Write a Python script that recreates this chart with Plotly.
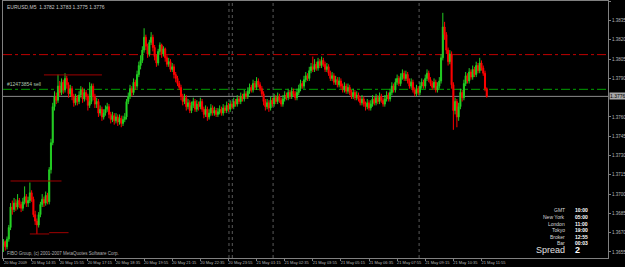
import plotly.graph_objects as go

# ---- data (prices in pips above 1.3000, e.g. 776 -> 1.3776) ----
first_open_pips = 660
close_pips = [
    663, 659, 665, 674, 690, 688, 693, 690, 695, 692, 689, 694, 698, 693, 695, 701,
    696, 684, 679, 676, 684, 692, 696, 693, 699, 694, 719, 740, 768, 776, 773, 784,
    779, 787, 781, 790, 785, 778, 782, 776, 771, 775, 772, 777, 781, 774, 779, 776,
    769, 772, 784, 776, 770, 772, 763, 766, 760, 763, 766, 768, 762, 758, 761, 757,
    760, 756, 759, 755, 758, 760, 772, 776, 782, 779, 787, 784, 793, 800, 804, 812,
    822, 815, 809, 818, 822, 814, 807, 802, 811, 816, 809, 813, 806, 801, 803, 797,
    799, 793, 790, 786, 783, 776, 772, 775, 768, 771, 765, 769, 772, 766, 770, 768,
    772, 766, 762, 766, 760, 763, 767, 763, 765, 762, 764, 766, 763, 767, 765, 769,
    766, 770, 768, 772, 770, 774, 772, 776, 774, 778, 776, 780, 783, 781, 786, 783,
    788, 785, 782, 778, 772, 768, 771, 767, 773, 770, 775, 772, 776, 773, 770, 774,
    777, 775, 779, 776, 780, 778, 775, 779, 782, 786, 784, 789, 792, 790, 796, 799,
    797, 801, 798, 803, 800, 804, 801, 797, 799, 794, 790, 792, 787, 789, 785, 788,
    784, 781, 784, 780, 783, 779, 776, 779, 775, 777, 774, 771, 774, 770, 768, 771,
    767, 770, 774, 771, 775, 772, 776, 773, 770, 774, 777, 774, 779, 784, 781, 787,
    790, 786, 791, 794, 790, 793, 788, 784, 787, 781, 778, 782, 779, 784, 787, 784,
    790, 794, 789, 786, 783, 787, 781, 784, 788, 806, 830, 824, 812, 803, 809, 785,
    765, 772, 760, 768, 779, 775, 786, 792, 788, 795, 791, 797, 793, 800, 796, 802,
    798, 794, 782, 776,
]
high_pips = [
    665, 664, 667, 676, 693, 695, 697, 696, 700, 697, 694, 697, 706, 700, 698, 709,
    703, 698, 687, 681, 686, 694, 700, 698, 702, 701, 721, 743, 771, 780, 779, 793,
    788, 790, 789, 794, 792, 787, 785, 784, 778, 778, 777, 780, 784, 783, 782, 781,
    778, 787, 786, 786, 778, 775, 774, 769, 768, 766, 769, 771, 770, 764, 764, 763,
    763, 762, 762, 761, 761, 763, 774, 779, 785, 784, 790, 789, 796, 803, 808, 815,
    829, 824, 817, 820, 826, 824, 816, 809, 813, 818, 817, 815, 814, 808, 806, 805,
    802, 801, 795, 792, 788, 785, 778, 778, 777, 774, 773, 772, 775, 774, 773, 772,
    775, 774, 768, 769, 768, 766, 770, 769, 768, 767, 767, 769, 768, 770, 769, 772,
    771, 773, 772, 775, 774, 777, 776, 779, 778, 781, 780, 783, 786, 785, 789, 788,
    791, 790, 787, 784, 780, 774, 774, 773, 776, 775, 778, 777, 779, 778, 775, 777,
    780, 779, 782, 781, 783, 782, 780, 782, 785, 789, 788, 792, 795, 794, 799, 802,
    807, 805, 803, 806, 805, 807, 806, 803, 802, 801, 796, 795, 794, 792, 791, 791,
    790, 786, 787, 786, 786, 785, 781, 782, 781, 780, 779, 776, 777, 776, 772, 774,
    773, 773, 777, 776, 778, 777, 779, 778, 775, 777, 780, 779, 782, 787, 786, 790,
    793, 792, 794, 797, 796, 796, 795, 790, 790, 789, 783, 785, 784, 787, 790, 789,
    793, 797, 796, 791, 788, 790, 789, 787, 791, 809, 841, 834, 826, 814, 812, 811,
    787, 775, 774, 771, 782, 781, 789, 795, 794, 798, 797, 800, 799, 803, 802, 806,
    804, 800, 796, 783,
]
low_pips = [
    655, 656, 657, 663, 672, 684, 686, 687, 688, 689, 686, 687, 692, 690, 690, 693,
    694, 682, 676, 669, 674, 682, 690, 690, 691, 692, 692, 716, 738, 765, 770, 771,
    776, 777, 778, 779, 782, 775, 776, 773, 768, 769, 769, 770, 775, 771, 772, 773,
    765, 767, 770, 773, 767, 767, 760, 761, 757, 758, 761, 764, 759, 755, 756, 754,
    755, 753, 754, 752, 753, 756, 758, 770, 774, 776, 777, 781, 782, 791, 797, 802,
    810, 812, 806, 807, 816, 811, 804, 799, 800, 809, 806, 807, 803, 799, 799, 795,
    795, 790, 787, 784, 781, 773, 769, 770, 765, 766, 763, 763, 767, 764, 764, 765,
    766, 764, 759, 760, 757, 758, 761, 761, 761, 760, 760, 762, 761, 761, 763, 763,
    764, 764, 766, 766, 768, 768, 770, 770, 772, 772, 774, 774, 778, 779, 779, 781,
    781, 783, 780, 776, 769, 765, 766, 764, 765, 768, 768, 770, 770, 771, 768, 768,
    772, 773, 773, 774, 774, 776, 773, 773, 777, 780, 782, 782, 787, 788, 788, 794,
    795, 795, 796, 796, 798, 798, 799, 795, 795, 792, 788, 788, 785, 785, 783, 783,
    782, 779, 779, 778, 778, 777, 774, 774, 773, 773, 772, 769, 769, 768, 765, 766,
    765, 765, 768, 769, 769, 770, 770, 771, 768, 768, 772, 772, 772, 777, 779, 779,
    785, 784, 784, 789, 788, 788, 786, 782, 782, 779, 776, 776, 777, 777, 782, 782,
    782, 788, 787, 784, 781, 781, 779, 779, 782, 786, 804, 820, 809, 800, 801, 782,
    750, 762, 752, 757, 766, 772, 773, 784, 786, 786, 789, 789, 791, 791, 794, 794,
    796, 792, 780, 775,
]

x_tick_labels = [
    "20 May 2009", "20 May 14:35", "20 May 15:55", "20 May 17:15", "20 May 18:35",
    "20 May 19:55", "20 May 21:15", "20 May 22:35", "20 May 23:55", "21 May 01:15",
    "21 May 02:35", "21 May 03:55", "21 May 05:15", "21 May 06:35", "21 May 07:55",
    "21 May 09:15", "21 May 10:35", "21 May 11:55",
]
bars_per_label = 16
y_tick_values = [1.3850, 1.3835, 1.3820, 1.3805, 1.3790, 1.3760, 1.3745, 1.3730,
                 1.3715, 1.3700, 1.3685, 1.3670, 1.3655]

bid_price = 1.3776
order_level = 1.37815
order_label = "#12473854 sell"
red_level = 1.38085
segments = [  # (start bar, end bar, price)
    (23, 56, 1.37927),
    (4, 33, 1.37102),
    (15, 26, 1.3669),
    (26, 37, 1.3670),
]
vlines_bars = [128.3, 130.2, 153.4, 236.5]

title_text = "EURUSD,M5  1.3782 1.3783 1.3775 1.3776"
copyright_text = "FIBO Group, (c) 2001-2007 MetaQuotes Software Corp."
info_labels = ["GMT", "New York", "London", "Tokyo", "Broker", "Bar"]
info_values = ["10:00", "05:00", "11:00", "19:00", "12:55", "00:03"]
spread_label = "Spread"
spread_value = "2"

# ---- build ----
closes = [1.3 + v / 10000 for v in close_pips]
highs = [1.3 + v / 10000 for v in high_pips]
lows = [1.3 + v / 10000 for v in low_pips]
opens = [1.3 + first_open_pips / 10000] + closes[:-1]
bars = list(range(len(closes)))

FONT = "Liberation Sans"

fig = go.Figure()
fig.add_trace(go.Candlestick(
    x=bars, open=opens, high=highs, low=lows, close=closes,
    increasing=dict(line=dict(color="#22cc22", width=1), fillcolor="#33ee33"),
    decreasing=dict(line=dict(color="#ff0000", width=1), fillcolor="#ff0000"),
    whiskerwidth=0, hoverinfo="skip", showlegend=False,
))

# horizontal levels
fig.add_shape(type="line", xref="paper", x0=0, x1=1, yref="y", y0=red_level, y1=red_level,
              line=dict(color="#c00000", width=1, dash="dashdot"), layer="below")
fig.add_shape(type="line", xref="paper", x0=0, x1=1, yref="y", y0=order_level, y1=order_level,
              line=dict(color="#00a000", width=1, dash="dashdot"), layer="below")
fig.add_shape(type="line", xref="paper", x0=0, x1=1, yref="y", y0=bid_price, y1=bid_price,
              line=dict(color="#8a8a8a", width=1), layer="below")
for b0, b1, p in segments:
    fig.add_shape(type="line", xref="x", x0=b0, x1=b1, yref="y", y0=p, y1=p,
                  line=dict(color="#a00000", width=1), layer="above")
for vb in vlines_bars:
    fig.add_shape(type="line", xref="x", x0=vb, x1=vb, yref="paper", y0=0, y1=1,
                  line=dict(color="#5a5a5a", width=1, dash="dot"), layer="below")

# texts
fig.add_annotation(xref="paper", yref="paper", x=0, y=1, xanchor="left", yanchor="top",
                   xshift=2, yshift=-1, text=title_text, showarrow=False,
                   font=dict(family=FONT, size=5, color="#c8c8c8"))
fig.add_annotation(xref="paper", yref="y", x=0, y=order_level, xanchor="left", yanchor="bottom",
                   xshift=2, yshift=0, text=order_label, showarrow=False,
                   font=dict(family=FONT, size=5, color="#b0c8b0"))
fig.add_annotation(xref="paper", yref="paper", x=0, y=0, xanchor="left", yanchor="bottom",
                   xshift=2, yshift=0, text=copyright_text, showarrow=False,
                   font=dict(family=FONT, size=4.5, color="#b0b0b0"))
info_y_px = [210, 217, 224, 230, 237, 243]
for lab, val, ypx in zip(info_labels, info_values, info_y_px):
    yp = (258 - ypx) / 257
    fig.add_annotation(xref="paper", yref="paper", x=(567 - 3) / 605, y=yp, xanchor="right",
                       yanchor="middle", text=lab, showarrow=False,
                       font=dict(family=FONT, size=5, color="#d8d8d8"))
    fig.add_annotation(xref="paper", yref="paper", x=(573 - 3) / 605, y=yp, xanchor="left",
                       yanchor="middle", text="<b>" + val + "</b>", showarrow=False,
                       font=dict(family=FONT, size=5, color="#ffffff"))
yp = (258 - 250) / 257
fig.add_annotation(xref="paper", yref="paper", x=(567 - 3) / 605, y=yp, xanchor="right",
                   yanchor="middle", text=spread_label, showarrow=False,
                   font=dict(family=FONT, size=9, color="#e0e0e0"))
fig.add_annotation(xref="paper", yref="paper", x=(573 - 3) / 605, y=yp, xanchor="left",
                   yanchor="middle", text="<b>" + spread_value + "</b>", showarrow=False,
                   font=dict(family=FONT, size=9, color="#ffffff"))
# bid price box on the axis
fig.add_annotation(xref="paper", yref="y", x=1, y=bid_price, xanchor="left", yanchor="middle",
                   xshift=1, text=f"{bid_price:.4f}", showarrow=False,
                   bgcolor="#a8a8a8", borderpad=0,
                   font=dict(family=FONT, size=5, color="#000000"))

fig.update_layout(
    width=625, height=267,
    margin=dict(l=3, r=17, t=1, b=9, autoexpand=False),
    paper_bgcolor="#000000", plot_bgcolor="#000000",
    boxgap=0.15,
    showlegend=False,
    xaxis=dict(
        range=[-0.3, 344], rangeslider=dict(visible=False),
        tickvals=[i * bars_per_label for i in range(len(x_tick_labels))],
        ticktext=x_tick_labels, ticks="outside", ticklen=2, tickcolor="#808080",
        tickangle=0, ticklabelshift=12, ticklabelstandoff=-2,
        tickfont=dict(family=FONT, size=4, color="#b8b8b8"),
        showgrid=False, zeroline=False, showline=True, linecolor="#808080",
        linewidth=1, mirror=True, automargin=False, fixedrange=True,
    ),
    yaxis=dict(
        side="right", range=[1.36503, 1.38502],
        tickvals=y_tick_values, ticktext=[f"{v:.4f}" for v in y_tick_values],
        ticks="outside", ticklen=2, tickcolor="#808080",
        tickfont=dict(family=FONT, size=4.5, color="#b8b8b8"),
        showgrid=False, zeroline=False, showline=True, linecolor="#808080",
        linewidth=1, mirror=True, automargin=False, fixedrange=True,
    ),
)

fig.write_html("out.html", config=dict(displayModeBar=False))
